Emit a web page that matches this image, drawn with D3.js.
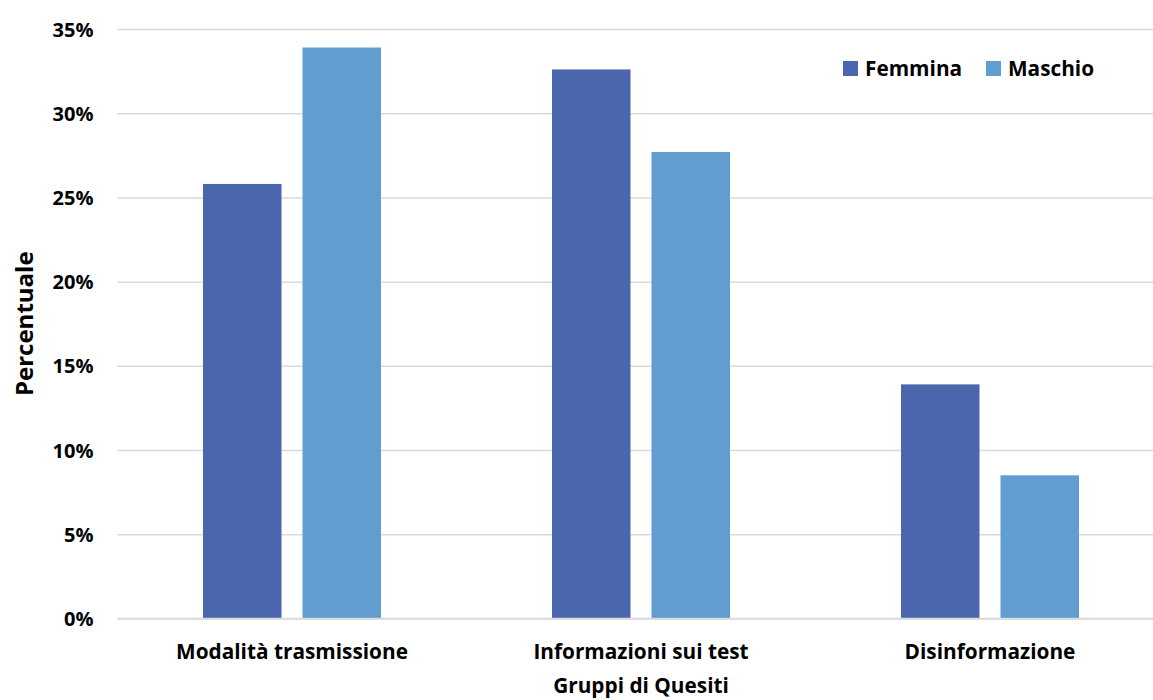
<!DOCTYPE html>
<html>
<head>
<meta charset="utf-8">
<script src="https://cdn.jsdelivr.net/npm/d3@7"></script>
<style>
  html, body { margin: 0; padding: 0; background: #fff; }
  svg { display: block; }
  text { font-family: "Open Sans", sans-serif; font-weight: bold; fill: #000; }
</style>
</head>
<body>
<svg id="chart" width="1153" height="700"></svg>
<script>
const categories = ["Modalità trasmissione", "Informazioni sui test", "Disinformazione"];
const seriesNames = ["Femmina", "Maschio"];
const femmina = [25.8, 32.6, 13.9];
const maschio = [33.9, 27.7, 8.5];
const yTicks = [0, 5, 10, 15, 20, 25, 30, 35];
const colors = ["#4A66AC", "#629DD1"];

(function () {
const svg = d3.select("#chart");
const W = 1153, H = 700;
const mLeft = 117.5, mRight = 1164.5, mTop = 29, mBottom = 618.5;
const FONT = "'Open Sans', sans-serif";
const FS = 20.8;

const x0 = d3.scaleBand().domain(categories).range([mLeft, mRight]).paddingInner(0.49).paddingOuter(0.245);
const x1 = d3.scaleBand().domain(seriesNames).range([0, x0.bandwidth()]).paddingInner(0.211).paddingOuter(0);
const y = d3.scaleLinear().domain([0, 35]).range([mBottom, mTop]);
const color = d3.scaleOrdinal().domain(seriesNames).range(colors);

// gridlines + y labels
const yAxis = d3.axisLeft(y).tickValues(yTicks).tickFormat(d => d + "%").tickSize(-(W - mLeft)).tickPadding(24);
const gy = svg.append("g").attr("transform", `translate(${mLeft},0)`).call(yAxis);
gy.select(".domain").remove();
gy.selectAll(".tick line").attr("stroke", "#D9D9D9").attr("stroke-width", 1.5);
gy.selectAll(".tick text").attr("font-size", 20).attr("font-family", FONT).attr("font-weight", "bold").attr("fill", "#000").attr("dy", "0.35em");

// bars
const data = categories.map((c, i) => ({ cat: c, values: [{ s: "Femmina", v: femmina[i] }, { s: "Maschio", v: maschio[i] }] }));
const groups = svg.append("g").selectAll("g").data(data).join("g")
  .attr("transform", d => `translate(${x0(d.cat)},0)`);
groups.selectAll("rect").data(d => d.values).join("rect")
  .attr("x", d => x1(d.s))
  .attr("width", x1.bandwidth())
  .attr("y", d => y(d.v))
  .attr("height", d => y(0) - y(d.v))
  .attr("fill", d => color(d.s));

// x axis baseline
svg.append("line").attr("x1", mLeft).attr("x2", W).attr("y1", y(0)).attr("y2", y(0))
  .attr("stroke", "#D9D9D9").attr("stroke-width", 1.5);

// x labels
const xAxis = d3.axisBottom(x0).tickSize(0).tickPadding(0);
const gx = svg.append("g").attr("transform", `translate(0,${mBottom})`).call(xAxis);
gx.select(".domain").remove();
gx.selectAll(".tick text").attr("font-size", FS).attr("font-family", FONT).attr("font-weight", "bold").attr("fill", "#000")
  .attr("dy", 0).attr("y", 40);

// axis titles
svg.append("text").attr("x", x0(categories[1]) + x0.bandwidth() / 2).attr("y", 693)
  .attr("text-anchor", "middle").attr("font-size", FS).text("Gruppi di Quesiti");
svg.append("text").attr("transform", `translate(33,${(mTop + mBottom) / 2}) rotate(-90)`)
  .attr("text-anchor", "middle").attr("font-size", 24).text("Percentuale");

// legend
const legend = svg.append("g");
const lx = [843, 986];
seriesNames.forEach((s, i) => {
  legend.append("rect").attr("x", lx[i]).attr("y", 61).attr("width", 15).attr("height", 15).attr("fill", color(s));
  legend.append("text").attr("x", lx[i] + 22).attr("y", 76).attr("font-size", FS).text(s);
});
})();
</script>
</body>
</html>
